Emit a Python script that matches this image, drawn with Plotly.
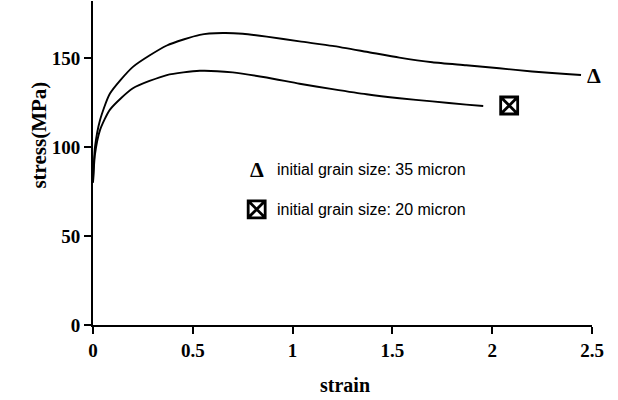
import plotly.graph_objects as go

# Curve for initial grain size 35 micron (upper)
strain_35 = [0.0, 0.01, 0.035, 0.085, 0.2, 0.37, 0.535, 0.65, 0.75, 0.87, 1.035, 1.2, 1.37, 1.535, 1.7, 1.87, 2.035, 2.2, 2.37, 2.445]
stress_35 = [80, 100, 115, 130, 145, 157, 163, 164, 163.6, 162, 159.3, 156.8, 153.5, 150.2, 147.6, 145.9, 144.2, 142.4, 141, 140.4]

# Curve for initial grain size 20 micron (lower)
strain_20 = [0.0, 0.01, 0.035, 0.085, 0.2, 0.37, 0.535, 0.7, 0.87, 1.035, 1.2, 1.37, 1.535, 1.7, 1.87, 1.955]
stress_20 = [80, 96, 109.5, 121, 133, 140.4, 142.8, 141.9, 139, 135.5, 132.5, 129.6, 127.4, 125.6, 123.8, 123]

# End-of-curve symbols
tri_pos = (2.555, 139.9)
box_pos = (2.085, 123.3)

# Legend
legend_labels = ["initial grain size: 35 micron", "initial grain size: 20 micron"]
legend_x_sym = 0.82
legend_x_txt = 0.912
legend_y = [87.1, 65.0]

x_ticks = [0, 0.5, 1, 1.5, 2, 2.5]
x_ticktext = ["0", "0.5", "1", "1.5", "2", "2.5"]
y_ticks = [0, 50, 100, 150]
y_ticktext = ["0", "50", "100", "150"]

X_RANGE = [0, 2.5]
Y_RANGE = [0, 182]

fig = go.Figure()
for xs, ys in ((strain_35, stress_35), (strain_20, stress_20)):
    fig.add_trace(go.Scatter(x=xs, y=ys, mode="lines",
                             line=dict(color="black", width=1.9, shape="spline", smoothing=0.6),
                             showlegend=False, hoverinfo="skip"))
# boxed X markers
fig.add_trace(go.Scatter(x=[box_pos[0], legend_x_sym], y=[box_pos[1], legend_y[1]], mode="markers",
                         marker=dict(symbol="square-x-open", size=17, color="black",
                                     line=dict(color="black", width=2.8)),
                         showlegend=False, hoverinfo="skip", cliponaxis=False))

serif = "Liberation Serif, Times New Roman, serif"
tri_xpaper = (tri_pos[0] - X_RANGE[0]) / (X_RANGE[1] - X_RANGE[0])
fig.add_annotation(x=tri_xpaper, y=tri_pos[1], xref="paper", yref="y", text="<b>Δ</b>",
                   showarrow=False, font=dict(family=serif, size=22, color="black"))
fig.add_annotation(x=legend_x_sym, y=legend_y[0], xref="x", yref="y", text="<b>Δ</b>",
                   showarrow=False, font=dict(family=serif, size=22, color="black"))
for lbl, yy in zip(legend_labels, legend_y):
    fig.add_annotation(x=legend_x_txt, y=yy, xref="x", yref="y", text=lbl, xanchor="left",
                       showarrow=False, font=dict(family="Liberation Sans, Arial, sans-serif", size=16, color="black"))

# axis titles
fig.add_annotation(x=0.505, y=-0.226, xref="paper", yref="paper", text="<b>strain</b>",
                   showarrow=False, font=dict(family=serif, size=20, color="black"))
fig.add_annotation(x=-0.136, y=0.585, xref="paper", yref="paper", text="<b>stress(MPa)</b>", textangle=-90,
                   showarrow=False, font=dict(family=serif, size=21, color="black"))

fig.update_layout(
    width=618, height=400,
    margin=dict(l=93, r=26, t=1, b=75),
    paper_bgcolor="white", plot_bgcolor="white",
    font=dict(family=serif, color="black"),
    xaxis=dict(range=X_RANGE, tickvals=x_ticks, ticktext=["<b>%s</b>" % t for t in x_ticktext],
               showgrid=False, zeroline=False, showline=True, linecolor="black", linewidth=2,
               ticks="outside", ticklen=7, tickwidth=2, tickcolor="black",
               tickfont=dict(family=serif, size=19, color="black")),
    yaxis=dict(range=Y_RANGE, tickvals=y_ticks, ticktext=["<b>%s</b>" % t for t in y_ticktext],
               showgrid=False, zeroline=False, showline=True, linecolor="black", linewidth=2,
               ticks="outside", ticklen=7, tickwidth=2, tickcolor="black",
               tickfont=dict(family=serif, size=19, color="black")),
)

fig.write_html("out.html")
